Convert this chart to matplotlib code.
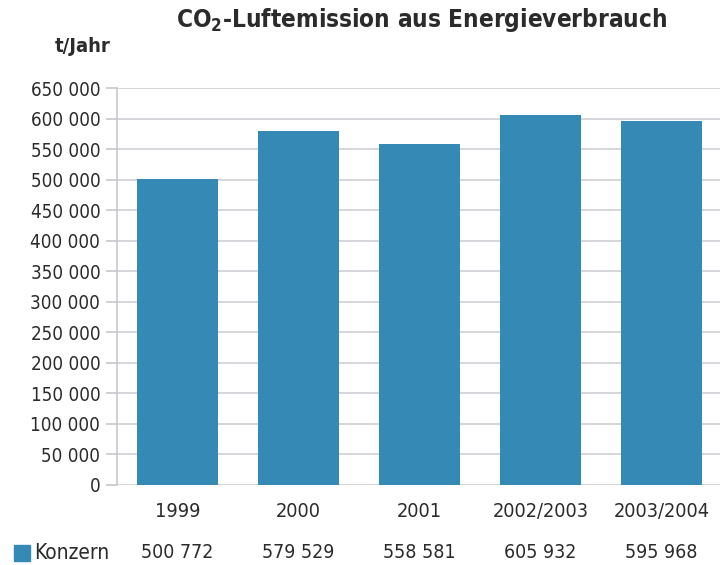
import matplotlib.pyplot as plt
from matplotlib.patches import Rectangle

categories = ["1999", "2000", "2001", "2002/2003", "2003/2004"]
values = [500772, 579529, 558581, 605932, 595968]
series_name = "Konzern"

BAR = "#3589b5"
TXT = "#2b2b2b"
plt.rcParams['font.family'] = ['DejaVu Sans']
plt.rcParams['font.stretch'] = 'condensed'
plt.rcParams['mathtext.fontset'] = 'custom'
plt.rcParams['mathtext.rm'] = 'DejaVu Sans:bold:stretch=condensed'

fig = plt.figure(figsize=(7.2, 5.65), dpi=100)
ax = fig.add_axes([117 / 720, 1 - 485 / 565, 605 / 720, (485 - 88) / 565])

x = range(len(categories))
ax.bar(x, values, width=0.67, color=BAR, zorder=3)
ax.set_xlim(-0.5, len(categories) - 0.5)
ax.set_ylim(0, 650000)
ax.set_yticks(range(0, 650001, 50000))
ax.set_yticklabels([f"{v:,}".replace(",", " ") for v in range(0, 650001, 50000)],
                   fontsize=13.5, color=TXT)
ax.grid(axis='y', color="#d0d0d4", linewidth=1.2, zorder=0)
ax.tick_params(axis='y', length=8, color="#c8c8cc", width=1.2, pad=4)
ax.set_xticks(list(x))
ax.set_xticklabels(categories, fontsize=14.3, color=TXT)
ax.tick_params(axis='x', length=0, pad=12)
for s in ['top', 'right', 'bottom']:
    ax.spines[s].set_visible(False)
ax.spines['left'].set_color("#c8c8cc")
ax.spines['left'].set_linewidth(1.2)

# value row below chart
for i, v in enumerate(values):
    ax.text(i, -68 / 397, f"{v:,}".replace(",", " "), transform=ax.get_xaxis_transform(),
            ha='center', va='center', fontsize=14, color=TXT)
fig.patches.append(Rectangle((14 / 720, 1 - 561 / 565), 16 / 720, 16 / 565,
                             transform=fig.transFigure, color=BAR))
fig.text(34 / 720, 1 - 553 / 565, series_name, ha='left', va='center', fontsize=15, color=TXT)

fig.text(422 / 720, 1 - 20 / 565, r"CO$_\mathregular{2}$-Luftemission aus Energieverbrauch",
         ha='center', va='center', fontsize=17.5, fontweight='bold', color=TXT)
fig.text(83 / 720, 1 - 46 / 565, "t/Jahr", ha='center', va='center', fontsize=14.5,
         fontweight='bold', color=TXT)

fig.savefig("out.png")
